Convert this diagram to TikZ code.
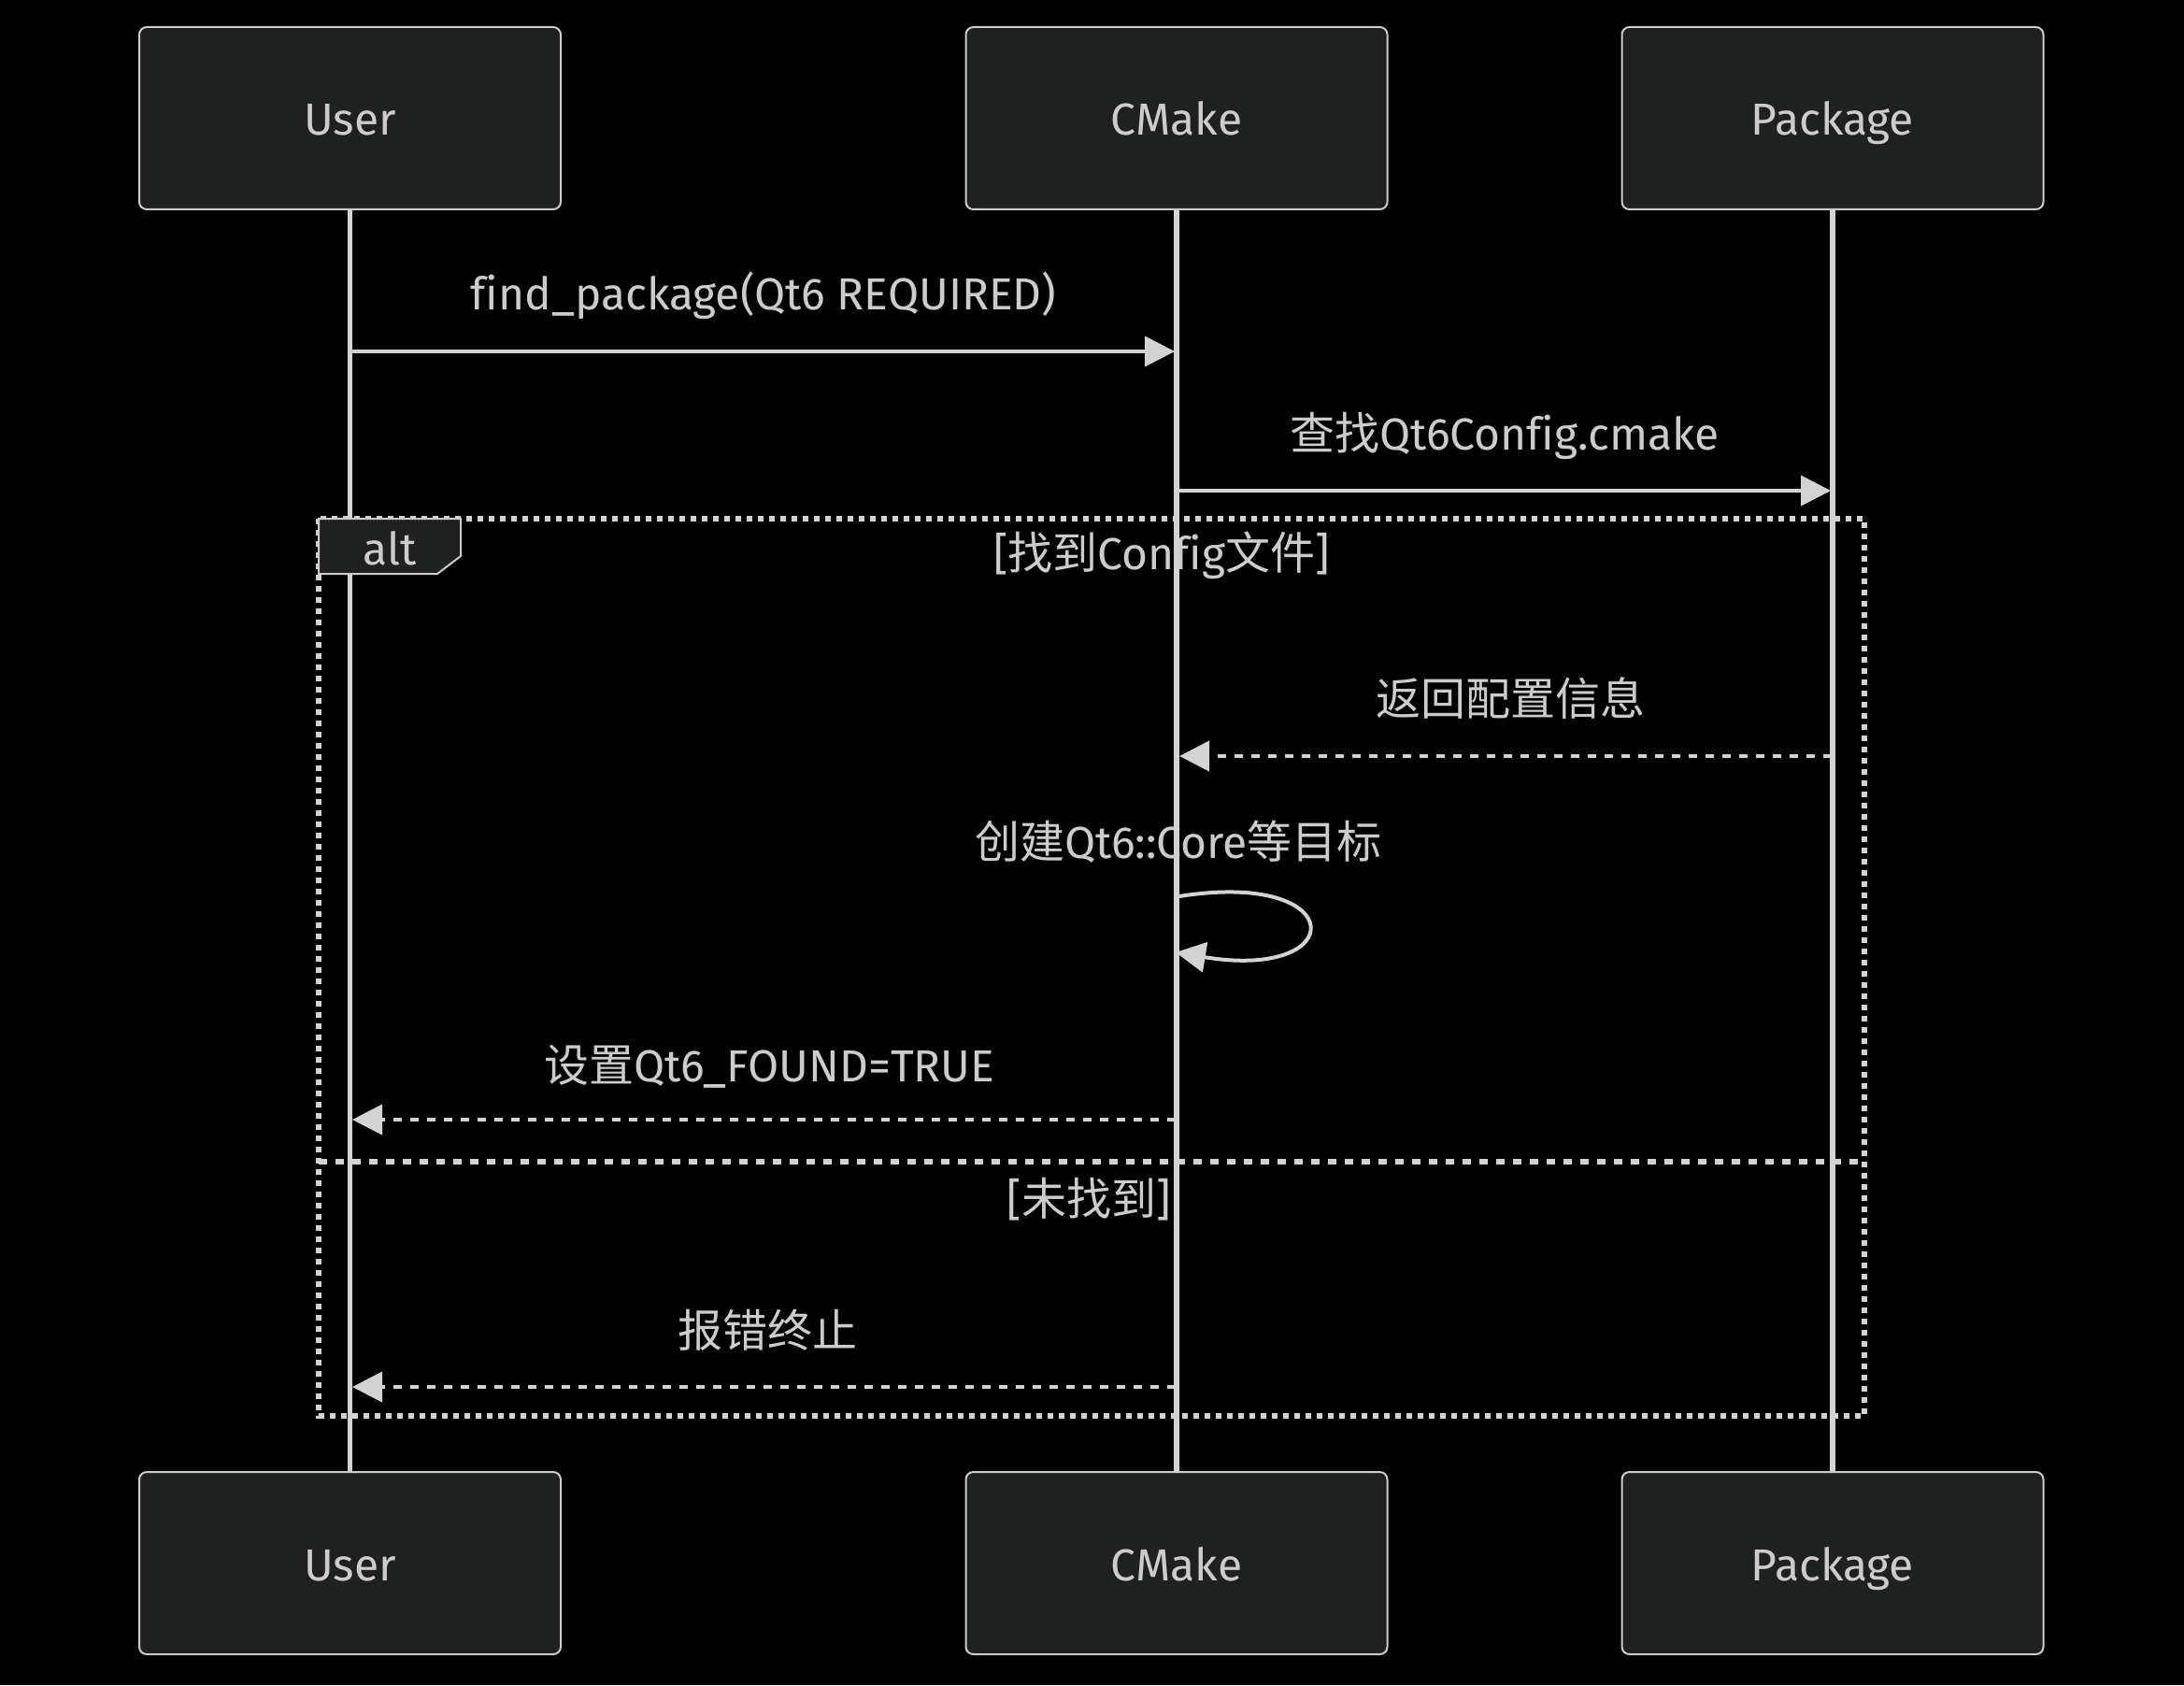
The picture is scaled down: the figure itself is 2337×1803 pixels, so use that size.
\documentclass[tikz,border=0pt]{standalone}
\usepackage{fontspec}
\setmainfont[Ligatures={NoCommon}]{Fira Sans}
\newfontfamily\cjk{Noto Sans CJK SC}
\usetikzlibrary{arrows.meta}
\definecolor{bgC}{HTML}{000000}
\definecolor{boxC}{HTML}{1F2020}
\definecolor{bordC}{HTML}{CCCCCC}
\definecolor{lineC}{HTML}{D3D3D3}
\definecolor{txtC}{HTML}{CCCCCC}
\begin{document}
\begin{tikzpicture}[x=0.5pt,y=-0.5pt,
  actor/.style={draw=bordC, fill=boxC, line width=1pt, rounded corners=4pt,
    minimum width=225.5pt, minimum height=97.5pt, inner sep=0pt, text=txtC,
    font=\fontsize{24}{28}\selectfont, text height=18.5pt, text depth=0pt},
  lbl/.style={anchor=base, text=txtC, font=\fontsize{24}{28}\selectfont, inner sep=0pt},
  lifeline/.style={draw=lineC, line width=2.6pt},
  msg/.style={draw=lineC, line width=2pt, -{Triangle[length=16pt,width=16pt,color=lineC]}},
  reply/.style={msg, dash pattern=on 4.5pt off 4.5pt},
  altframe/.style={draw=lineC, line width=2.6pt, dash pattern=on 3pt off 3pt},
  altsep/.style={draw=lineC, line width=2.6pt, dash pattern=on 4.5pt off 4.5pt},
  altlabel/.style={draw=bordC, fill=boxC, line width=1pt}
]
\fill[bgC] (0,0) rectangle (2337,1803);

% message and section texts (below lifelines)
\node[lbl] (t1) at (817,331) {find\_package(Qt6 REQUIRED)};
\node[lbl] (t2) at (1610,481) {{\cjk 查找}Qt6Config.cmake};
\node[lbl] (tc1) at (1243,609) {[{\cjk 找到}Config{\cjk 文件}]};
\node[lbl] (t3) at (1616,765) {\cjk 返回配置信息};
\node[lbl] (t4) at (1261,918) {{\cjk 创建}Qt6::Core{\cjk 等目标}};
\node[lbl] (t5) at (823,1157) {{\cjk 设置}Qt6\_FOUND=TRUE};
\node[lbl] (tc2) at (1165,1300) {[{\cjk 未找到}]};
\node[lbl] (t6) at (821,1441) {\cjk 报错终止};

% actors
\node[actor] (uT) at (374.5,126.5) {User};
\node[actor] (cT) at (1259,126.5) {CMake};
\node[actor] (pT) at (1961,126.5) {Package};
\node[actor] (uB) at (374.5,1672.5) {User};
\node[actor] (cB) at (1259,1672.5) {CMake};
\node[actor] (pB) at (1961,1672.5) {Package};

% lifelines
\draw[lifeline] (uT.south) -- (uB.north);
\draw[lifeline] (cT.south) -- (cB.north);
\draw[lifeline] (pT.south) -- (pB.north);

% alt frame
\coordinate (fTL) at (341,555);
\coordinate (fBR) at (1995,1515);
\coordinate (sL) at (341,1243);
\coordinate (sR) at (1995,1243);
\draw[altframe] (fTL) rectangle (fBR);
\draw[altsep] (sL) -- (sR);
\draw[altlabel] (341,555) -- (493,555) -- (493,595) -- (468,614) -- (341,614) -- cycle;
\node[lbl] (alt) at (417,604) {alt};

% message coordinates
\coordinate (u1) at (376,376);   \coordinate (c1) at (1257,376);
\coordinate (c2) at (1260,525);  \coordinate (p2) at (1959,525);
\coordinate (p3) at (1960,809);  \coordinate (c3) at (1262,809);
\coordinate (c4a) at (1262,959); \coordinate (c4b) at (1258,1019);
\coordinate (c5) at (1258,1198); \coordinate (u5) at (377,1198);
\coordinate (c6) at (1258,1484); \coordinate (u6) at (377,1484);

\draw[msg] (u1) -- (c1);
\draw[msg] (c2) -- (p2);
\draw[reply] (p3) -- (c3);
\draw[msg] (c4a) .. controls (1445,930) and (1445,1050) .. (c4b);
\draw[reply] (c5) -- (u5);
\draw[reply] (c6) -- (u6);
\end{tikzpicture}
\end{document}
